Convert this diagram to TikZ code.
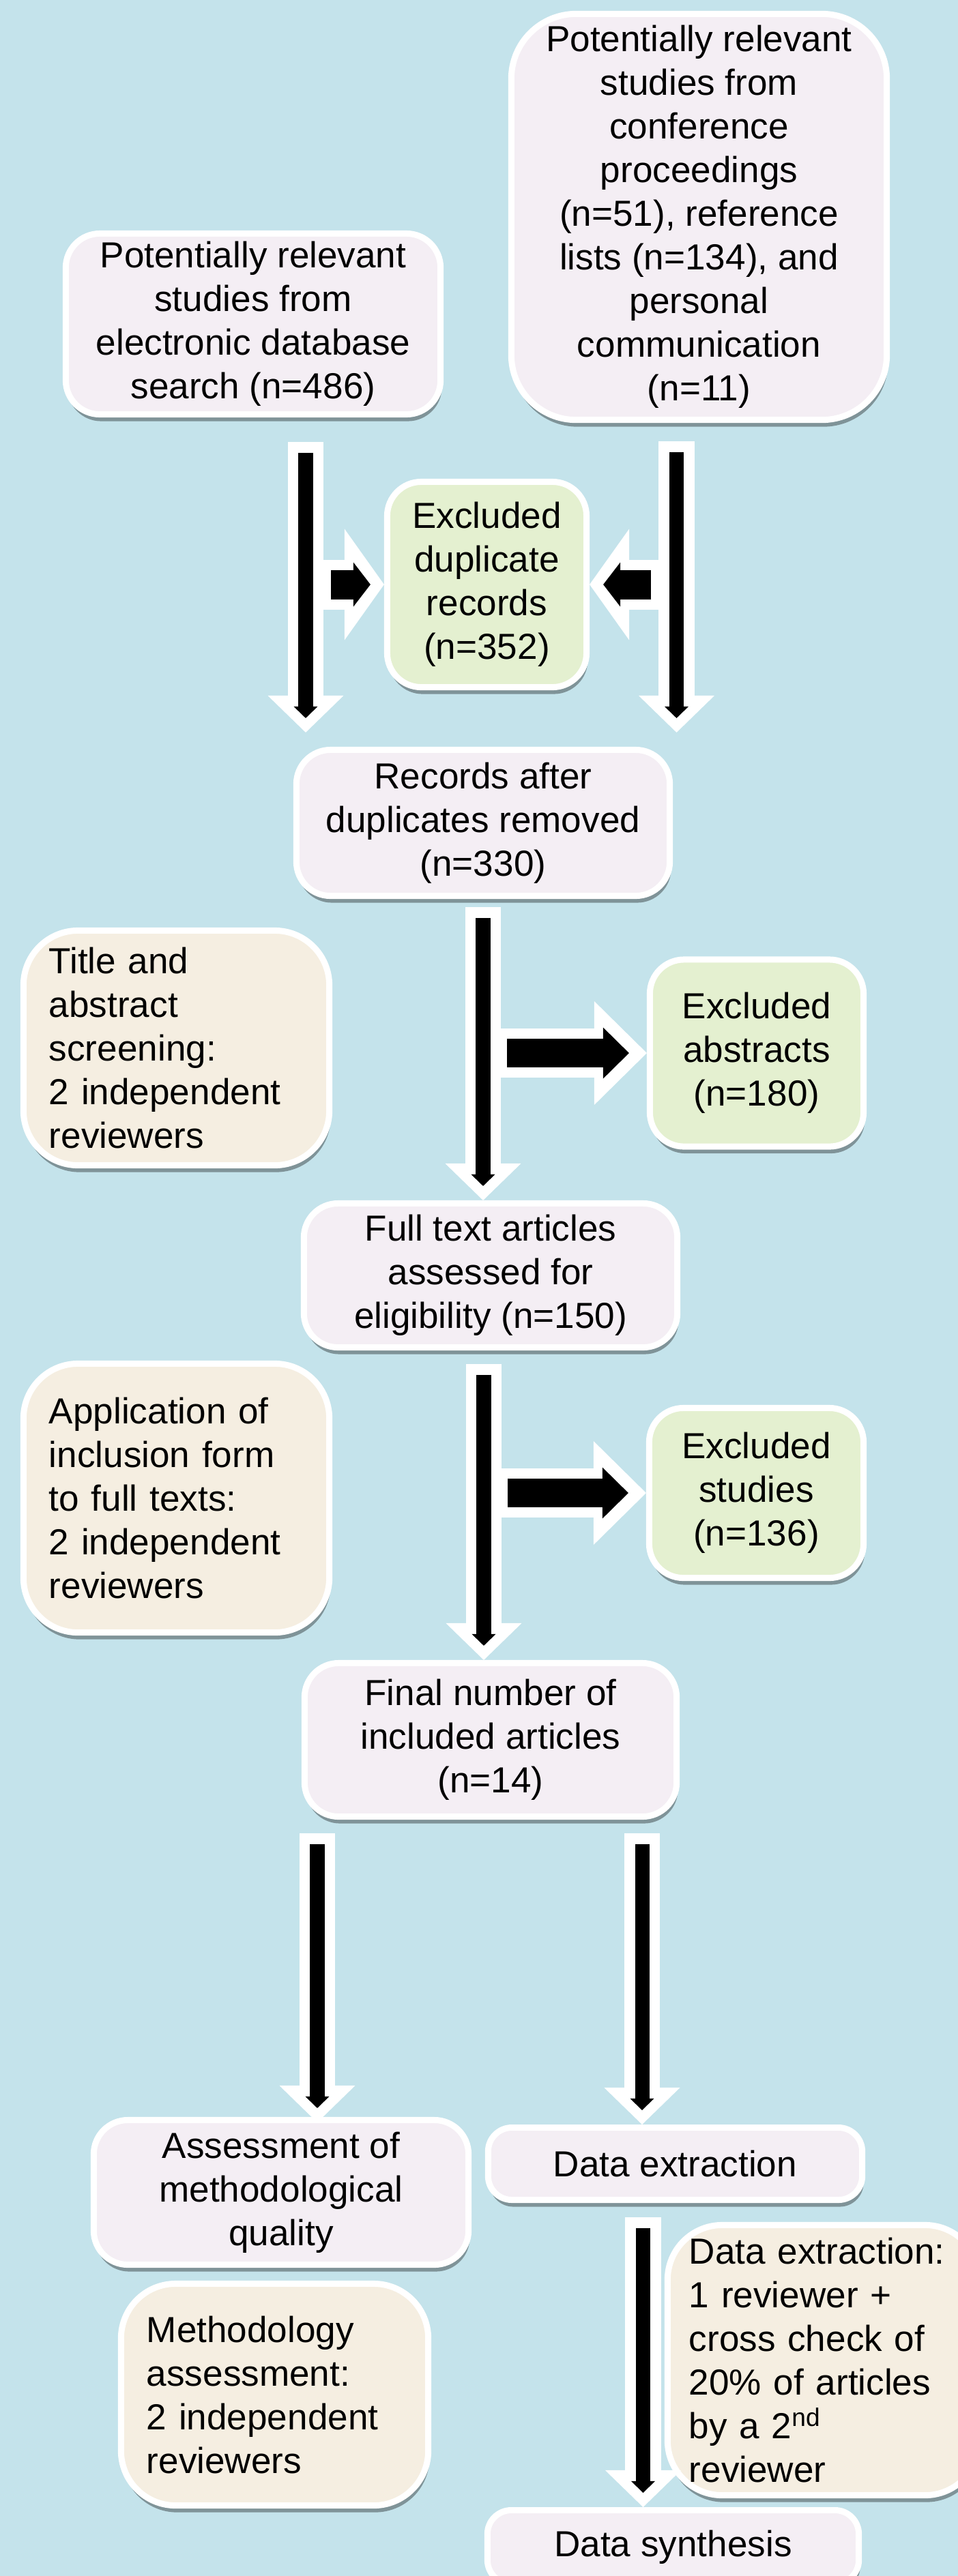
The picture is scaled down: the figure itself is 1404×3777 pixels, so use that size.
\documentclass[tikz,border=0pt]{standalone}
\usepackage{fontspec}
\setmainfont{Liberation Sans}
\usetikzlibrary{arrows.meta,shadows,calc}

\definecolor{bgblue}{RGB}{196,227,235}
\definecolor{boxpink}{RGB}{244,238,244}
\definecolor{boxgreen}{RGB}{228,240,208}
\definecolor{boxbeige}{RGB}{245,238,225}

\begin{document}
\begin{tikzpicture}[x=0.01cm, y=-0.01cm,
	every node/.style={font=\fontsize{15.1}{18.2}\selectfont},
	box/.style={draw=white, line width=0.09cm, rounded corners=0.5cm, inner sep=0pt, align=center,
		drop shadow={shadow xshift=0.02cm, shadow yshift=-0.1cm, opacity=0.35, fill=black}},
	stagebox/.style={box, fill=boxpink},
	exclbox/.style={box, fill=boxgreen},
	notebox/.style={box, fill=boxbeige, rounded corners=0.8cm, align=left, inner xsep=0.375cm},
	outerdown/.style={draw=white, line width=0.52cm, -{Triangle[length=0.54cm, width=1.11cm, line width=0pt]}},
	innerdown/.style={draw=black, line width=0.21cm, -{Triangle[length=0.17cm, width=0.35cm, line width=0pt]}, shorten <=0.16cm, shorten >=0.21cm},
	outerside/.style={draw=white, line width=0.72cm, -{Triangle[length=0.77cm, width=1.52cm, line width=0pt]}},
	innerside/.style={draw=black, line width=0.42cm, -{Triangle[length=0.38cm, width=0.75cm, line width=0pt]}, shorten <=0.35cm, shorten >=0.26cm},
	outerdup/.style={draw=white, line width=0.73cm, -{Triangle[length=0.58cm, width=1.63cm, line width=0pt]}},
	innerdup/.style={draw=black, line width=0.43cm, -{Triangle[length=0.25cm, width=0.65cm, line width=0pt]}, shorten <=0.37cm, shorten >=0.2cm}]
	\useasboundingbox (0,0) rectangle (1404,3777);
	\clip (0,0) rectangle (1404,3777);
	\fill[bgblue] (0,0) rectangle (1404,3777);

	% identification
	\node[stagebox, minimum width=5.49cm, minimum height=2.65cm] (search) at (371,475) {Potentially relevant\\studies from\\electronic database\\search (n=486)};
	\node[stagebox, rounded corners=0.95cm, minimum width=5.50cm, minimum height=5.95cm] (other) at (1024.5,318) {Potentially relevant\\studies from\\conference\\proceedings\\(n=51), reference\\lists (n=134), and\\personal\\communication\\(n=11)};
	\node[exclbox, minimum width=2.92cm, minimum height=3.01cm] (dup) at (713.5,857) {Excluded\\duplicate\\records\\(n=352)};
	\node[stagebox, minimum width=5.47cm, minimum height=2.14cm] (rec) at (708,1206.5) {Records after\\duplicates removed\\(n=330)};

	% screening
	\node[notebox, text width=3.73cm, minimum height=3.44cm] (screen) at (258.5,1536.5) {Title and\\abstract\\screening:\\2 independent\\reviewers};
	\node[exclbox, minimum width=3.13cm, minimum height=2.74cm] (abs) at (1109,1544) {Excluded\\abstracts\\(n=180)};
	\node[stagebox, minimum width=5.47cm, minimum height=2.11cm] (full) at (719,1870) {Full text articles\\assessed for\\eligibility (n=150)};
	\node[notebox, text width=3.73cm, minimum height=3.94cm] (apply) at (258.5,2196.5) {Application of\\inclusion form\\to full texts:\\2 independent\\reviewers};
	\node[exclbox, minimum width=3.14cm, minimum height=2.49cm] (studies) at (1108.5,2189) {Excluded\\studies\\(n=136)};
	\node[stagebox, minimum width=5.45cm, minimum height=2.25cm] (final) at (719,2551) {Final number of\\included articles\\(n=14)};

	% appraisal and extraction
	\node[stagebox, minimum width=5.49cm, minimum height=2.12cm] (assess) at (412,3214.5) {Assessment of\\methodological\\quality};
	\node[stagebox, rounded corners=0.35cm, minimum width=5.48cm, minimum height=1.06cm] (dext) at (989.5,3172.5) {Data extraction};
	\node[notebox, text width=3.75cm, minimum height=3.25cm] (method) at (402.5,3511) {Methodology\\assessment:\\2 independent\\reviewers};
	\node[notebox, inner xsep=0.315cm, text width=3.94cm, minimum height=3.96cm] (check) at (1207,3460.5) {Data extraction:\\1 reviewer +\\cross check of\\20\% of articles\\by a 2\textsuperscript{nd}\\reviewer};
	\node[stagebox, rounded corners=0.35cm, minimum width=5.44cm, minimum height=1.08cm] (synth) at (986.5,3734.5) {Data synthesis};

	% arrow ends
	\coordinate (l1) at ($(search.south)+(77,36)$);
	\coordinate (l2) at ($(l1 |- rec.north)+(0,-21)$);
	\coordinate (r1) at ($(other.south)+(-33,27)$);
	\coordinate (r2) at ($(r1 |- rec.north)+(0,-21)$);
	\coordinate (m1) at ($(rec.south)+(0,12)$);
	\coordinate (m2) at (m1 |- full.north);
	\coordinate (n1) at ($(full.south)+(-10,20)$);
	\coordinate (n2) at (n1 |- final.north);
	\coordinate (s1) at ($(final.south)+(-254,20)$);
	\coordinate (s2) at ($(s1 |- assess.north)+(0,8)$);
	\coordinate (t1) at ($(final.south)+(222,20)$);
	\coordinate (t2) at (t1 |- dext.north);
	\coordinate (u1) at ($(dext.south)+(-47,21)$);
	\coordinate (u2) at (u1 |- synth.north);

	% white outlines
	\foreach \a/\b in {l1/l2, r1/r2, m1/m2, n1/n2, s1/s2, t1/t2, u1/u2}
		\draw[outerdown] (\a) -- (\b);
	\draw[outerdup] (l1 |- dup.west) -- (dup.west);
	\draw[outerdup] (r1 |- dup.east) -- (dup.east);
	\draw[outerside] (m1 |- abs.west) -- (abs.west);
	\draw[outerside] (n1 |- studies.west) -- (studies.west);

	% black arrows
	\foreach \a/\b in {l1/l2, r1/r2, m1/m2, n1/n2, s1/s2, t1/t2, u1/u2}
		\draw[innerdown] (\a) -- (\b);
	\draw[innerdup] (l1 |- dup.west) -- (dup.west);
	\draw[innerdup] (r1 |- dup.east) -- (dup.east);
	\draw[innerside] (m1 |- abs.west) -- (abs.west);
	\draw[innerside] (n1 |- studies.west) -- (studies.west);
\end{tikzpicture}
\end{document}
